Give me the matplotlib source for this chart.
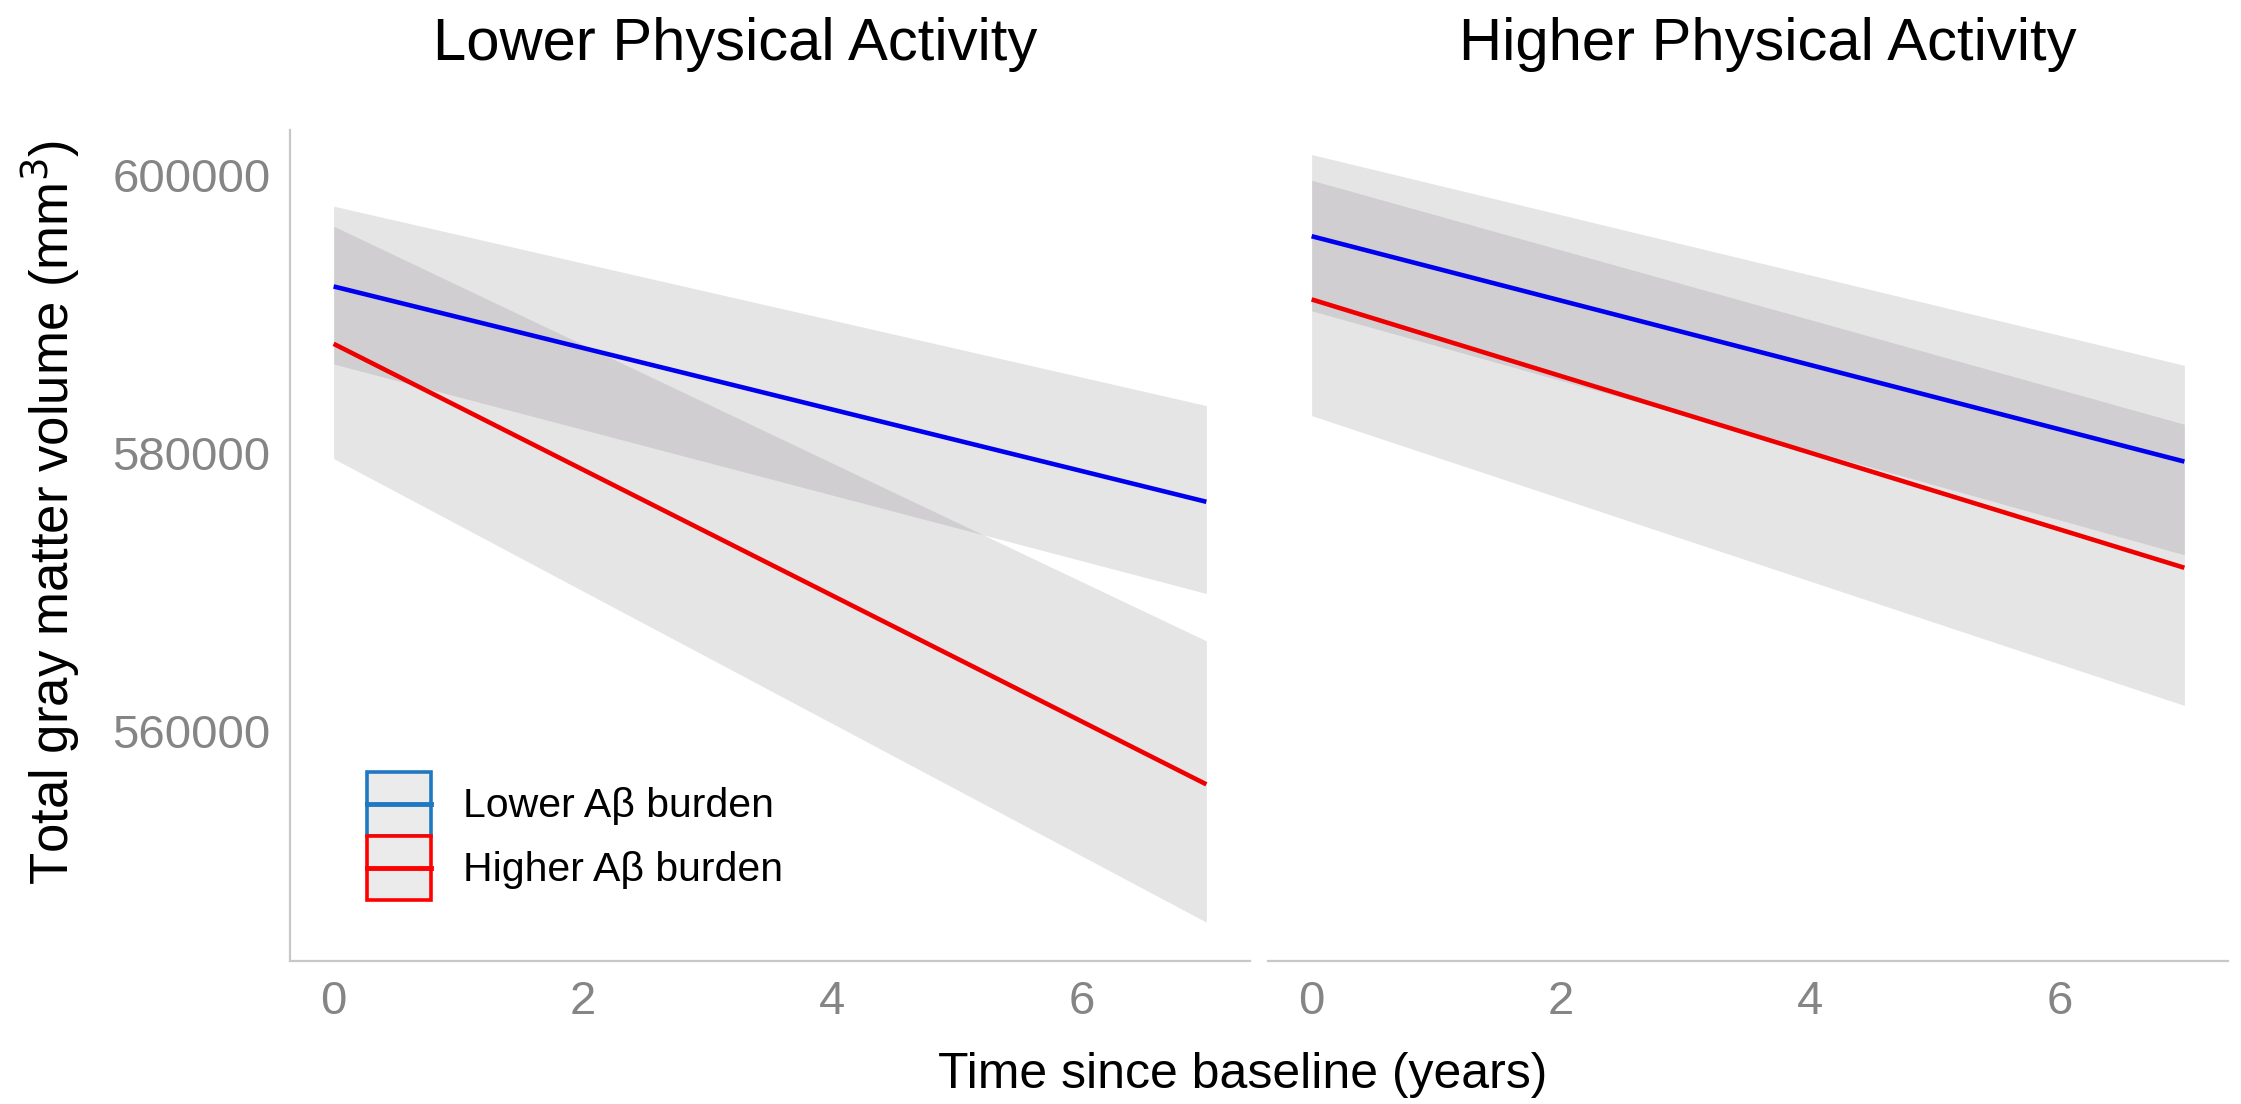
import matplotlib
matplotlib.use("Agg")
import matplotlib.pyplot as plt
from matplotlib.patches import Rectangle
from matplotlib.lines import Line2D
from matplotlib.legend_handler import HandlerBase

plt.rcParams['font.family'] = ['Liberation Sans', 'DejaVu Sans']

# data (fitted line and ribbon ends at year 0 and 7)
years = [0, 7]
panels = ["Lower Physical Activity", "Higher Physical Activity"]
groups = ["Lower Aβ burden", "Higher Aβ burden"]

low_pa_fit = {"Lower Aβ burden": [591960, 576490], "Higher Aβ burden": [587840, 556190]}
low_pa_upper = {"Lower Aβ burden": [597730, 583400], "Higher Aβ burden": [596290, 566500]}
low_pa_lower = {"Lower Aβ burden": [586390, 569900], "Higher Aβ burden": [579590, 546290]}

high_pa_fit = {"Lower Aβ burden": [595570, 579380], "Higher Aβ burden": [591030, 571750]}
high_pa_upper = {"Lower Aβ burden": [601440, 586290], "Higher Aβ burden": [599590, 582060]}
high_pa_lower = {"Lower Aβ burden": [590210, 572680], "Higher Aβ burden": [582680, 561860]}

x_ticks = [0, 2, 4, 6]
y_ticks = [560000, 580000, 600000]

line_colors = {"Lower Aβ burden": "#0000ee", "Higher Aβ burden": "#ee0000"}
legend_colors = {"Lower Aβ burden": "#1f78c1", "Higher Aβ burden": "#ff0000"}


class BoxWithLine(HandlerBase):
    # grey key box with coloured border and a line through its middle
    def create_artists(self, legend, orig_handle, xdescent, ydescent,
                       width, height, fontsize, trans):
        color = orig_handle.get_color()
        box = Rectangle((-xdescent, -ydescent), width, height, facecolor="#ebebeb",
                        edgecolor=color, linewidth=2.6, transform=trans)
        mid = -ydescent + height / 2
        line = Line2D([-xdescent, -xdescent + width], [mid, mid], color=color,
                      lw=3.5, transform=trans)
        return [box, line]


W, H = 2241, 1104
fig = plt.figure(figsize=(W / 100, H / 100), dpi=100)

ax_l = fig.add_axes([290 / W, (H - 961) / H, 960 / W, 831 / H])
ax_r = fig.add_axes([1268 / W, (H - 961) / H, 960 / W, 831 / H], sharey=ax_l)

data = [(ax_l, low_pa_fit, low_pa_upper, low_pa_lower),
        (ax_r, high_pa_fit, high_pa_upper, high_pa_lower)]

for ax, fit, upper, lower in data:
    for g in groups:
        ax.fill_between(years, lower[g], upper[g], color="#352f37", alpha=0.12,
                        linewidth=0)
    for g in groups:
        ax.plot(years, fit[g], color=line_colors[g], lw=3.3, solid_capstyle='butt')
    ax.set_xlim(-0.35, 7.35)
    ax.set_xticks(x_ticks)
    for s in ["top", "right"]:
        ax.spines[s].set_visible(False)
    ax.spines["bottom"].set_color("#c8c8c8")
    ax.spines["bottom"].set_linewidth(1.6)
    ax.tick_params(axis='x', length=0, pad=14, labelsize=34, labelcolor="#858585")

ax_l.set_ylim(543500, 603200)
ax_l.set_yticks(y_ticks)
ax_l.spines["left"].set_color("#c8c8c8")
ax_l.spines["left"].set_linewidth(1.6)
ax_l.tick_params(axis='y', length=0, pad=14, labelsize=34, labelcolor="#858585")
ax_r.spines["left"].set_visible(False)
ax_r.tick_params(axis='y', left=False, labelleft=False)

# panel titles and axis labels
fig.text(735 / W, 1 - 60 / H, panels[0], fontsize=43, ha='center', va='baseline')
fig.text(1768 / W, 1 - 60 / H, panels[1], fontsize=43, ha='center', va='baseline')
fig.text(1243 / W, 1 - 1088 / H, "Time since baseline (years)", fontsize=36,
         ha='center', va='baseline')
fig.text(50 / W, 1 - 512 / H, "Total gray matter volume (mm$^3$)", fontsize=38,
         rotation=90, ha='center', va='center')

handles = [Line2D([], [], color=legend_colors[g]) for g in groups]
ax_l.legend(handles, groups, loc='upper left', bbox_to_anchor=(367 / W, 1 - 772 / H),
            bbox_transform=fig.transFigure, frameon=False, fontsize=29.5,
            handlelength=1.55, handleheight=2.02, labelspacing=0.0,
            handletextpad=0.8, borderpad=0, borderaxespad=0,
            handler_map={Line2D: BoxWithLine()})

fig.savefig("out.png", dpi=100)
